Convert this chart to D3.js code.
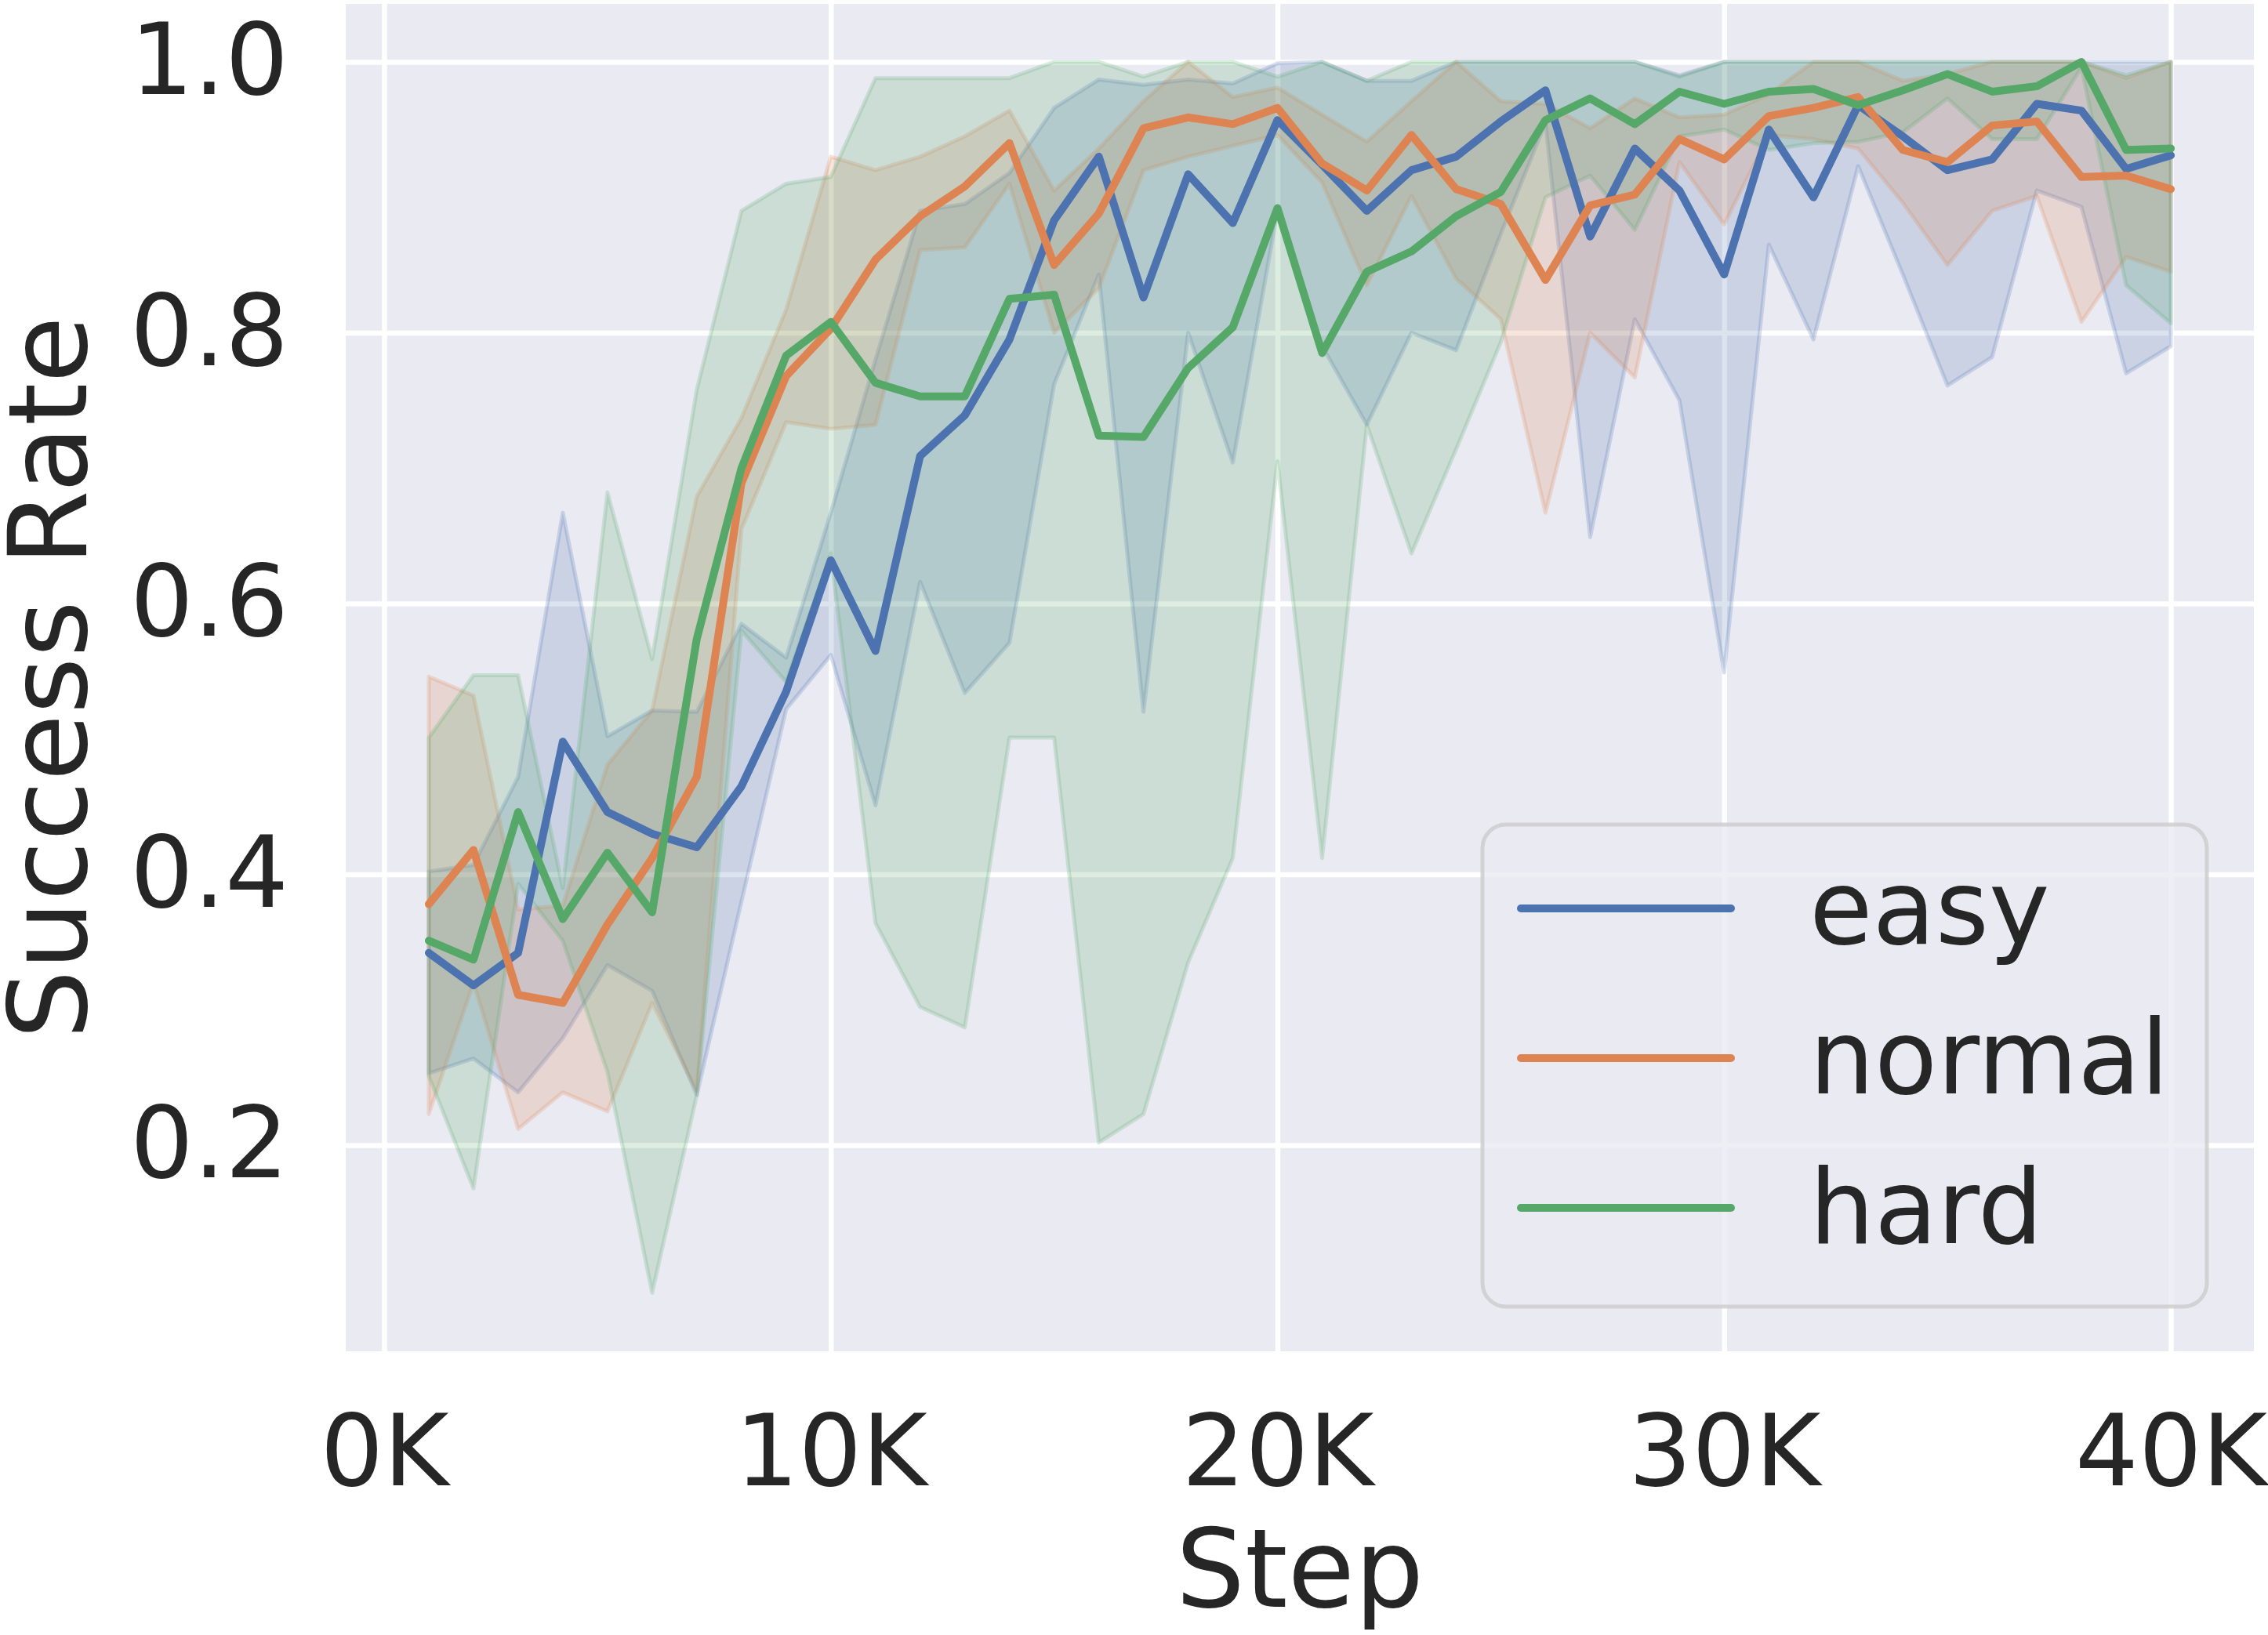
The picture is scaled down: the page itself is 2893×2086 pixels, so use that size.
<!DOCTYPE html>
<html>
<head>
<meta charset="utf-8">
<script src="https://cdn.jsdelivr.net/npm/d3@7"></script>
<style>
  body { margin: 0; background: #ffffff; }
  text { font-family: "DejaVu Sans", sans-serif; fill: #262626; }
</style>
</head>
<body>
<svg id="chart"></svg>
<script>
var screenWidth = 2893
var screenHeight = 2086

// steps, in thousands
var steps = d3.range(1, 41)

var easyMean = [0.342, 0.318, 0.342, 0.498, 0.446, 0.430, 0.420, 0.465, 0.535, 0.632,
  0.565, 0.709, 0.739, 0.795, 0.883, 0.930, 0.826, 0.917, 0.881, 0.957,
  0.924, 0.890, 0.920, 0.930, 0.956, 0.979, 0.871, 0.936, 0.905, 0.843,
  0.950, 0.900, 0.968, 0.945, 0.920, 0.928, 0.969, 0.964, 0.921, 0.931]
var easyHigh = [0.402, 0.407, 0.472, 0.667, 0.502, 0.521, 0.520, 0.585, 0.560, 0.667,
  0.780, 0.890, 0.895, 0.918, 0.966, 0.987, 0.983, 0.987, 0.984, 0.999,
  1.000, 0.986, 0.986, 1.000, 1.000, 1.000, 1.000, 1.000, 0.990, 1.000,
  1.000, 1.000, 1.000, 1.000, 1.000, 1.000, 1.000, 1.000, 1.000, 1.000]
var easyLow = [0.253, 0.264, 0.239, 0.279, 0.333, 0.314, 0.237, 0.380, 0.522, 0.562,
  0.451, 0.616, 0.534, 0.571, 0.762, 0.843, 0.520, 0.800, 0.704, 0.890,
  0.790, 0.732, 0.800, 0.787, 0.873, 0.955, 0.649, 0.810, 0.750, 0.549,
  0.865, 0.795, 0.923, 0.843, 0.761, 0.782, 0.905, 0.893, 0.770, 0.790]

var normalMean = [0.378, 0.418, 0.311, 0.305, 0.363, 0.412, 0.472, 0.689, 0.768, 0.803,
  0.854, 0.886, 0.908, 0.940, 0.850, 0.888, 0.951, 0.959, 0.954, 0.966,
  0.925, 0.905, 0.946, 0.906, 0.895, 0.839, 0.894, 0.902, 0.943, 0.928,
  0.960, 0.966, 0.974, 0.935, 0.926, 0.953, 0.956, 0.915, 0.916, 0.906]
var normalHigh = [0.546, 0.532, 0.374, 0.377, 0.481, 0.521, 0.679, 0.737, 0.817, 0.930,
  0.920, 0.930, 0.945, 0.964, 0.905, 0.936, 0.971, 1.000, 0.974, 0.981,
  0.961, 0.941, 0.971, 1.000, 0.971, 0.969, 0.951, 0.973, 0.959, 0.961,
  0.976, 1.000, 1.000, 0.986, 0.991, 1.000, 1.000, 1.000, 0.988, 1.000]
var normalLow = [0.223, 0.320, 0.212, 0.239, 0.225, 0.305, 0.240, 0.655, 0.734, 0.729,
  0.732, 0.861, 0.863, 0.910, 0.800, 0.833, 0.920, 0.930, 0.938, 0.946,
  0.911, 0.835, 0.901, 0.840, 0.810, 0.667, 0.800, 0.767, 0.926, 0.880,
  0.946, 0.943, 0.936, 0.896, 0.850, 0.890, 0.901, 0.808, 0.856, 0.845]

var hardMean = [0.351, 0.337, 0.446, 0.367, 0.416, 0.372, 0.574, 0.700, 0.783, 0.808,
  0.763, 0.753, 0.753, 0.825, 0.828, 0.724, 0.723, 0.774, 0.804, 0.892,
  0.785, 0.845, 0.860, 0.886, 0.904, 0.957, 0.973, 0.954, 0.978, 0.969,
  0.978, 0.980, 0.968, 0.979, 0.991, 0.978, 0.982, 1.000, 0.935, 0.936]
var hardHigh = [0.501, 0.547, 0.547, 0.390, 0.682, 0.559, 0.758, 0.890, 0.910, 0.915,
  0.988, 0.988, 0.988, 0.988, 1.000, 1.000, 0.989, 1.000, 1.000, 0.989,
  1.000, 0.986, 1.000, 1.000, 1.000, 1.000, 1.000, 1.000, 0.989, 1.000,
  1.000, 1.000, 1.000, 1.000, 1.000, 1.000, 1.000, 1.000, 0.990, 1.000]
var hardLow = [0.251, 0.168, 0.393, 0.351, 0.254, 0.091, 0.237, 0.580, 0.542, 0.637,
  0.364, 0.302, 0.287, 0.501, 0.501, 0.202, 0.223, 0.335, 0.412, 0.705,
  0.412, 0.732, 0.637, 0.714, 0.793, 0.900, 0.916, 0.876, 0.945, 0.950,
  0.935, 0.940, 0.941, 0.948, 0.973, 0.943, 0.943, 0.996, 0.835, 0.807]

var seriesNames = ["easy", "normal", "hard"]
var seriesColors = ["#4c72b0", "#dd8452", "#55a868"]
var xTicks = [0, 10, 20, 30, 40]
var yTicks = [0.2, 0.4, 0.6, 0.8, 1.0]

var series = [
  {name: seriesNames[0], color: seriesColors[0], mean: easyMean, low: easyLow, high: easyHigh},
  {name: seriesNames[1], color: seriesColors[1], mean: normalMean, low: normalLow, high: normalHigh},
  {name: seriesNames[2], color: seriesColors[2], mean: hardMean, low: hardLow, high: hardHigh}
]

var plot = {left: 441, right: 2875, top: 5, bottom: 1724}
var tickFont = 127
var labelFont = 139
var legendFont = 131

var svg = d3.select('#chart')
svg.attr("width", screenWidth)
svg.attr("height", screenHeight)

var x = d3.scaleLinear().domain([-0.86, 41.86]).range([plot.left, plot.right])
var y = d3.scaleLinear().domain([0.0478, 1.0428]).range([plot.bottom, plot.top])

svg.append("rect")
  .attr("x", plot.left)
  .attr("y", plot.top)
  .attr("width", plot.right - plot.left)
  .attr("height", plot.bottom - plot.top)
  .attr("fill", "#eaeaf2")

// axes double as the white grid
var xAxis = svg.append("g")
  .attr("transform", "translate(0," + plot.bottom + ")")
  .call(d3.axisBottom(x).tickValues(xTicks)
    .tickSize(-(plot.bottom - plot.top))
    .tickPadding(81)
    .tickFormat(d => d + "K"))

var yAxis = svg.append("g")
  .attr("transform", "translate(" + plot.left + ",0)")
  .call(d3.axisLeft(y).tickValues(yTicks)
    .tickSize(-(plot.right - plot.left))
    .tickPadding(73)
    .tickFormat(d3.format(".1f")))

for (var ax of [xAxis, yAxis]) {
  ax.select(".domain").remove()
  ax.selectAll(".tick line").attr("stroke", "#ffffff").attr("stroke-width", 6.5)
  ax.selectAll(".tick text")
    .attr("font-size", tickFont)
    .attr("font-family", "DejaVu Sans")
    .attr("fill", "#262626")
}

var area = d3.area()
  .x((d, i) => x(steps[i]))
  .y0(d => y(d[0]))
  .y1(d => y(d[1]))

var line = d3.line()
  .x((d, i) => x(steps[i]))
  .y(d => y(d))

// bands first, all of them, then the mean lines on top
for (var s of series) {
  var band = s.low.map((v, i) => [v, s.high[i]])
  svg.append("path")
    .attr("d", area(band))
    .attr("fill", s.color)
    .attr("fill-opacity", 0.2)
    .attr("stroke", s.color)
    .attr("stroke-opacity", 0.22)
    .attr("stroke-width", 5)
    .attr("stroke-linejoin", "round")
}

for (var s of series) {
  svg.append("path")
    .attr("d", line(s.mean))
    .attr("fill", "none")
    .attr("stroke", s.color)
    .attr("stroke-width", 10)
    .attr("stroke-linejoin", "round")
    .attr("stroke-linecap", "round")
}

// legend
var legend = svg.append("g")
legend.append("rect")
  .attr("x", 1891)
  .attr("y", 1052)
  .attr("width", 924)
  .attr("height", 615)
  .attr("rx", 30)
  .attr("fill", "#eaeaf2")
  .attr("fill-opacity", 0.8)
  .attr("stroke", "#cccccc")
  .attr("stroke-opacity", 0.8)
  .attr("stroke-width", 5)

series.forEach(function(s, i) {
  var ly = 1159 + i * 191
  legend.append("line")
    .attr("x1", 1940).attr("x2", 2208)
    .attr("y1", ly).attr("y2", ly)
    .attr("stroke", s.color)
    .attr("stroke-width", 10)
    .attr("stroke-linecap", "round")
  legend.append("text")
    .attr("x", 2308)
    .attr("y", ly + 45)
    .attr("font-size", legendFont)
    .text(s.name)
})

svg.append("text")
  .attr("x", (plot.left + plot.right) / 2)
  .attr("y", 2050)
  .attr("text-anchor", "middle")
  .attr("font-size", labelFont)
  .text("Step")

svg.append("text")
  .attr("transform", "translate(110," + (plot.top + plot.bottom) / 2 + ") rotate(-90)")
  .attr("text-anchor", "middle")
  .attr("font-size", labelFont)
  .text("Success Rate")
</script>
</body>
</html>
